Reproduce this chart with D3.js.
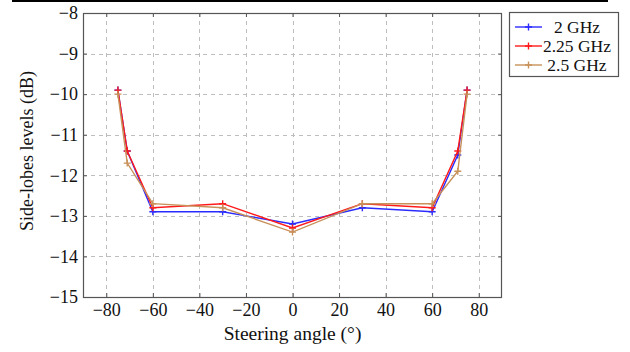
<!DOCTYPE html>
<html>
<head>
<meta charset="utf-8">
<script src="https://cdn.jsdelivr.net/npm/d3@7"></script>
<style>
  html, body { margin: 0; padding: 0; background: #fff; }
  svg { display: block; }
  svg text { font-family: "Liberation Serif", serif; fill: #111; }
</style>
</head>
<body>
<svg id="chart" width="630" height="352"></svg>
<script>
// Steering angles (degrees) at which side-lobe levels were evaluated
const angles = [-75, -71, -60, -30, 0, 30, 60, 71, 75];

// Side-lobe levels (dB) per frequency
const sll2GHz   = [-9.9, -11.4, -12.9, -12.9, -13.2, -12.8, -12.9, -11.5, -9.9];
const sll225GHz = [-9.9, -11.4, -12.8, -12.7, -13.3, -12.7, -12.8, -11.4, -9.9];
const sll25GHz  = [-10.0, -11.7, -12.7, -12.8, -13.4, -12.7, -12.7, -11.9, -10.0];

const seriesNames = ["2 GHz", "2.25 GHz", "2.5 GHz"];
const xTicks = [-80, -60, -40, -20, 0, 20, 40, 60, 80];
const yTicks = [-15, -14, -13, -12, -11, -10, -9, -8];

const series = [
  { name: seriesNames[0], values: sll2GHz,   color: "#2b2bff" },
  { name: seriesNames[1], values: sll225GHz, color: "#ff1a1a" },
  { name: seriesNames[2], values: sll25GHz,  color: "#c8915a" }
];

const FONT = "Liberation Serif, serif";
const svg = d3.select("#chart");
const m = { left: 83, right: 502, top: 13, bottom: 297 };

const x = d3.scaleLinear().domain([-90, 90]).range([m.left, m.right]);
const y = d3.scaleLinear().domain([-15, -8]).range([m.bottom, m.top]);

// thin rule across the top of the figure
svg.append("rect").attr("x", 12).attr("y", 0).attr("width", 596).attr("height", 2).attr("fill", "#000");

// dashed grid
const grid = svg.append("g").attr("stroke", "#bdbdbd").attr("stroke-width", 1).attr("stroke-dasharray", "4,4");
xTicks.forEach(t => grid.append("line")
  .attr("x1", Math.round(x(t)) + 0.5).attr("x2", Math.round(x(t)) + 0.5)
  .attr("y1", m.top).attr("y2", m.bottom));
yTicks.slice(1, -1).forEach(t => grid.append("line")
  .attr("x1", m.left).attr("x2", m.right)
  .attr("y1", Math.round(y(t)) + 0.5).attr("y2", Math.round(y(t)) + 0.5));

// axes with inward ticks on all four sides
const fmt = d => d < 0 ? "\u2212" + Math.abs(d) : String(d);
const axB = svg.append("g").attr("transform", `translate(0,${m.bottom})`)
  .call(d3.axisBottom(x).tickValues(xTicks).tickSizeInner(-4).tickSizeOuter(0).tickPadding(6).tickFormat(fmt));
const axT = svg.append("g").attr("transform", `translate(0,${m.top})`)
  .call(d3.axisTop(x).tickValues(xTicks).tickSizeInner(-4).tickSizeOuter(0).tickFormat(""));
const axL = svg.append("g").attr("transform", `translate(${m.left},0)`)
  .call(d3.axisLeft(y).tickValues(yTicks).tickSizeInner(-4).tickSizeOuter(0).tickPadding(5).tickFormat(fmt));
const axR = svg.append("g").attr("transform", `translate(${m.right},0)`)
  .call(d3.axisRight(y).tickValues(yTicks).tickSizeInner(-4).tickSizeOuter(0).tickFormat(""));
[axB, axT, axL, axR].forEach(g => {
  g.attr("font-family", FONT).attr("font-size", 18);
  g.select(".domain").remove();
  g.selectAll(".tick line").attr("stroke", "#555");
  g.selectAll("text").attr("fill", "#111");
});

// frame
svg.append("rect").attr("x", m.left + 0.5).attr("y", m.top + 0.5)
  .attr("width", m.right - m.left - 1).attr("height", m.bottom - m.top)
  .attr("fill", "none").attr("stroke", "#555").attr("stroke-width", 1.2);

// axis titles
svg.append("text").attr("x", 292.5).attr("y", 340)
  .attr("text-anchor", "middle").attr("font-family", FONT).attr("font-size", 19.5)
  .text("Steering angle (\u00b0)");
svg.append("text").attr("transform", "translate(33,151) rotate(-90)")
  .attr("text-anchor", "middle").attr("font-family", FONT).attr("font-size", 18)
  .text("Side-lobes levels (dB)");

// series lines and plus markers
const line = d3.line().x((d, i) => x(angles[i])).y(d => y(d));
const drawPlus = (g, cx, cy, color) => {
  g.append("path").attr("d", `M${cx - 3.5},${cy}H${cx + 3.5}M${cx},${cy - 3.5}V${cy + 3.5}`)
    .attr("stroke", color).attr("stroke-width", 1.4).attr("fill", "none");
};
series.forEach(s => {
  const g = svg.append("g");
  g.append("path").datum(s.values).attr("d", line)
    .attr("fill", "none").attr("stroke", s.color).attr("stroke-width", 1.4);
  s.values.forEach((v, i) => drawPlus(g, x(angles[i]), y(v), s.color));
});

// legend
const lg = svg.append("g");
lg.append("rect").attr("x", 509.5).attr("y", 12.5).attr("width", 109).attr("height", 64)
  .attr("fill", "#fff").attr("stroke", "#555").attr("stroke-width", 1.2);
series.forEach((s, i) => {
  const ly = 27 + i * 19;
  lg.append("line").attr("x1", 515).attr("x2", 542).attr("y1", ly).attr("y2", ly)
    .attr("stroke", s.color).attr("stroke-width", 1.4);
  drawPlus(lg, 528.5, ly, s.color);
  lg.append("text").attr("x", 577).attr("y", ly + 5.5).attr("text-anchor", "middle")
    .attr("font-family", FONT).attr("font-size", 17.5).text(s.name);
});
</script>
</body>
</html>
